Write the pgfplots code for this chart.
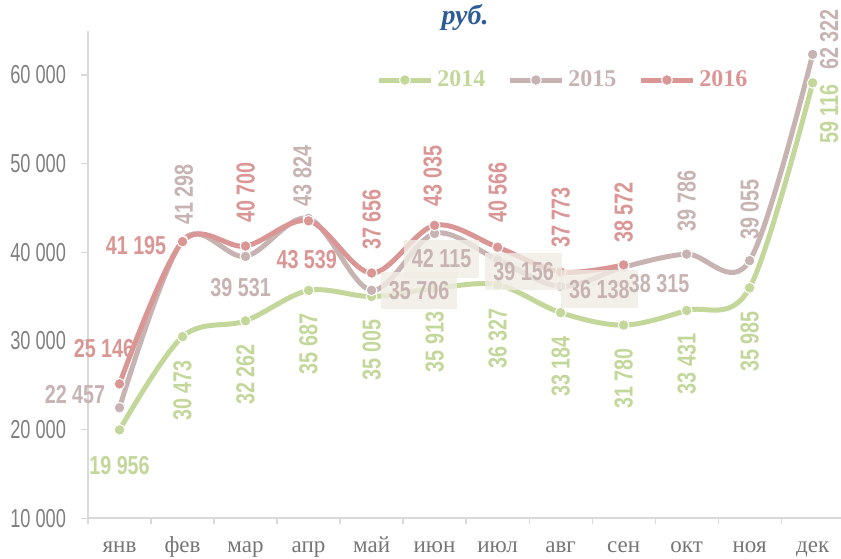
\documentclass[border=0pt]{standalone}
\usepackage{pgfplots}
\pgfplotsset{compat=1.18}
\usepackage{pgfplotstable}
\usepackage{fontspec}
\setmainfont{Liberation Serif}
\newfontfamily\labfont[FakeStretch=0.76]{Liberation Sans}
\newfontfamily\tickfont[FakeStretch=0.7]{Liberation Sans}
\usetikzlibrary{calc}

\definecolor{cA}{RGB}{196,215,155}
\definecolor{cB}{RGB}{200,179,179}
\definecolor{cC}{RGB}{218,150,148}
\definecolor{axisgray}{RGB}{217,217,217}
\definecolor{tickgray}{RGB}{127,127,127}
\definecolor{catgray}{RGB}{118,118,118}
\definecolor{titleblue}{RGB}{46,92,150}
\definecolor{boxcol}{RGB}{240,236,228}

\pgfplotstableread{
x y
0 19956
1 30473
2 32262
3 35687
4 35005
5 35913
6 36327
7 33184
8 31780
9 33431
10 35985
11 59116
}\dA
\pgfplotstableread{
x y
0 22457
1 41298
2 39531
3 43824
4 35706
5 42115
6 39156
7 36138
8 38315
9 39786
10 39055
11 62322
}\dB
\pgfplotstableread{
x y
0 25146
1 41195
2 40700
3 43539
4 37656
5 43035
6 40566
7 37773
8 38572
}\dC

\tikzset{
  lab/.style={font=\labfont\bfseries\fontsize{13}{14}\selectfont, inner sep=0pt},
  bx/.style={lab, fill=boxcol, fill opacity=0.8, text opacity=1, inner xsep=4pt, inner ysep=4.75pt},
}
\pgfplotsset{ser/.style={color=#1, line width=2.5pt, smooth, tension=0.55, mark=*, mark size=2.7pt, mark options={fill=#1, draw=white, line width=0.5pt}}}

\begin{document}
\begin{tikzpicture}
\begin{axis}[
  set layers,
  scale only axis, width=376.4pt, height=243.65pt,
  xmin=-0.5, xmax=11.45, ymin=10000, ymax=65000,
  axis lines*=left,
  axis line style={draw=axisgray, line width=0.75pt},
  xtick={0,...,11},
  xticklabels={янв,фев,мар,апр,май,июн,июл,авг,сен,окт,ноя,дек},
  major x tick style={draw=none},
  minor xtick={-0.5,0.5,...,10.5},
  ytick={10000,20000,30000,40000,50000,60000},
  yticklabels={10 000,20 000,30 000,40 000,50 000,60 000},
  scaled y ticks=false,
  tick align=outside,
  tick style={draw=axisgray, line width=0.6pt},
  major tick length=3.5pt, minor tick length=3pt,
  x tick label style={font=\fontsize{11.5}{12}\selectfont, text=catgray, anchor=base, yshift=-13.5pt},
  y tick label style={font=\tickfont\fontsize{13}{14}\selectfont, text=tickgray, xshift=-4pt},
  clip=false,
  legend columns=3,
  legend style={draw=none, fill=none, at={(0.632,0.8988)}, anchor=center,
    font=\bfseries\fontsize{12}{13}\selectfont,
    /tikz/every even column/.append style={column sep=9pt}},
  legend image code/.code={\draw[mark repeat=2,mark phase=2,#1] plot coordinates {(0pt,0pt) (13pt,0pt) (26pt,0pt)};},
]
\addplot[ser=cA] table[x=x,y=y]{\dA};
\addlegendentry{\textcolor{cA}{2014}}
\addplot[ser=cB] table[x=x,y=y]{\dB};
\addlegendentry{\textcolor{cB}{2015}}
\addplot[ser=cC] table[x=x,y=y]{\dC};
\addlegendentry{\textcolor{cC}{2016}}

\begin{pgfonlayer}{axis foreground}
% 2014 labels
\node[lab, text=cA, yshift=-18pt] at (axis cs:0,19956) {19 956};
\node[lab, text=cA, anchor=east, yshift=-11.5pt, rotate=90] at (axis cs:1,30473) {30 473};
\node[lab, text=cA, anchor=east, yshift=-11.5pt, rotate=90] at (axis cs:2,32262) {32 262};
\node[lab, text=cA, anchor=east, yshift=-11.5pt, rotate=90] at (axis cs:3,35687) {35 687};
\node[lab, text=cA, anchor=east, yshift=-11.5pt, rotate=90] at (axis cs:4,35005) {35 005};
\node[lab, text=cA, anchor=east, yshift=-11.5pt, rotate=90] at (axis cs:5,35913) {35 913};
\node[lab, text=cA, anchor=east, yshift=-11.5pt, rotate=90] at (axis cs:6,36327) {36 327};
\node[lab, text=cA, anchor=east, yshift=-11.5pt, rotate=90] at (axis cs:7,33184) {33 184};
\node[lab, text=cA, anchor=east, yshift=-11.5pt, rotate=90] at (axis cs:8,31780) {31 780};
\node[lab, text=cA, anchor=east, yshift=-11.5pt, rotate=90] at (axis cs:9,33431) {33 431};
\node[lab, text=cA, anchor=east, yshift=-11.5pt, rotate=90] at (axis cs:10,35985) {35 985};
\node[lab, text=cA, xshift=8.25pt, yshift=-15.6pt, rotate=90] at (axis cs:11,59116) {59 116};

% 2015 labels
\node[lab, text=cB, xshift=-22.25pt, yshift=6.8pt] at (axis cs:0,22457) {22 457};
\node[lab, text=cB, anchor=west, xshift=0.75pt, yshift=7.85pt, rotate=90] at (axis cs:1,41298) {41 298};
\node[lab, text=cB, xshift=-2.5pt, yshift=-15.5pt] at (axis cs:2,39531) {39 531};
\node[lab, text=cB, anchor=west, xshift=-3pt, yshift=5.8pt, rotate=90] at (axis cs:3,43824) {43 824};
\node[bx, text=cB, xshift=23.75pt, yshift=0pt] at (axis cs:4,35706) {35 706};
\node[bx, text=cB, xshift=3.5pt, yshift=-12.75pt] at (axis cs:5,42115) {42 115};
\node[bx, text=cB, xshift=13pt, yshift=-6pt] at (axis cs:6,39156) {39 156};
\node[bx, text=cB, xshift=19.35pt, yshift=-1.3pt] at (axis cs:7,36138) {36 138};
\node[lab, text=cB, xshift=17.75pt, yshift=-8pt] at (axis cs:8,38315) {38 315};
\node[lab, text=cB, anchor=west, yshift=11.2pt, rotate=90] at (axis cs:9,39786) {39 786};
\node[lab, text=cB, anchor=west, yshift=10.3pt, rotate=90] at (axis cs:10,39055) {39 055};
\node[lab, text=cB, xshift=8.25pt, yshift=7.45pt, rotate=90] at (axis cs:11,62322) {62 322};

% 2016 labels
\node[lab, text=cC, xshift=-7.75pt, yshift=17.5pt] at (axis cs:0,25146) {25 146};
\node[lab, text=cC, xshift=-23.25pt, yshift=-1.7pt] at (axis cs:1,41195) {41 195};
\node[lab, text=cC, anchor=west, yshift=11.35pt, rotate=90] at (axis cs:2,40700) {40 700};
\node[lab, text=cC, xshift=-0.9pt, yshift=-19.5pt] at (axis cs:3,43539) {43 539};
\node[lab, text=cC, anchor=west, yshift=11.5pt, rotate=90] at (axis cs:4,37656) {37 656};
\node[lab, text=cC, anchor=west, xshift=-1pt, yshift=9.35pt, rotate=90] at (axis cs:5,43035) {43 035};
\node[lab, text=cC, anchor=west, yshift=12pt, rotate=90] at (axis cs:6,40566) {40 566};
\node[lab, text=cC, anchor=west, yshift=11.85pt, rotate=90] at (axis cs:7,37773) {37 773};
\node[lab, text=cC, anchor=west, yshift=10.8pt, rotate=90] at (axis cs:8,38572) {38 572};

% title
\node[anchor=base, text=titleblue, font=\bfseries\itshape\fontsize{14}{15}\selectfont] at (axis cs:5.484,65643) {руб.};
\end{pgfonlayer}
\end{axis}
\pgfresetboundingbox
\path[use as bounding box] ($(current axis.south west)+(-44pt,-20pt)$) rectangle ($(current axis.north east)+(0pt,15.35pt)$);
\end{tikzpicture}
\end{document}
